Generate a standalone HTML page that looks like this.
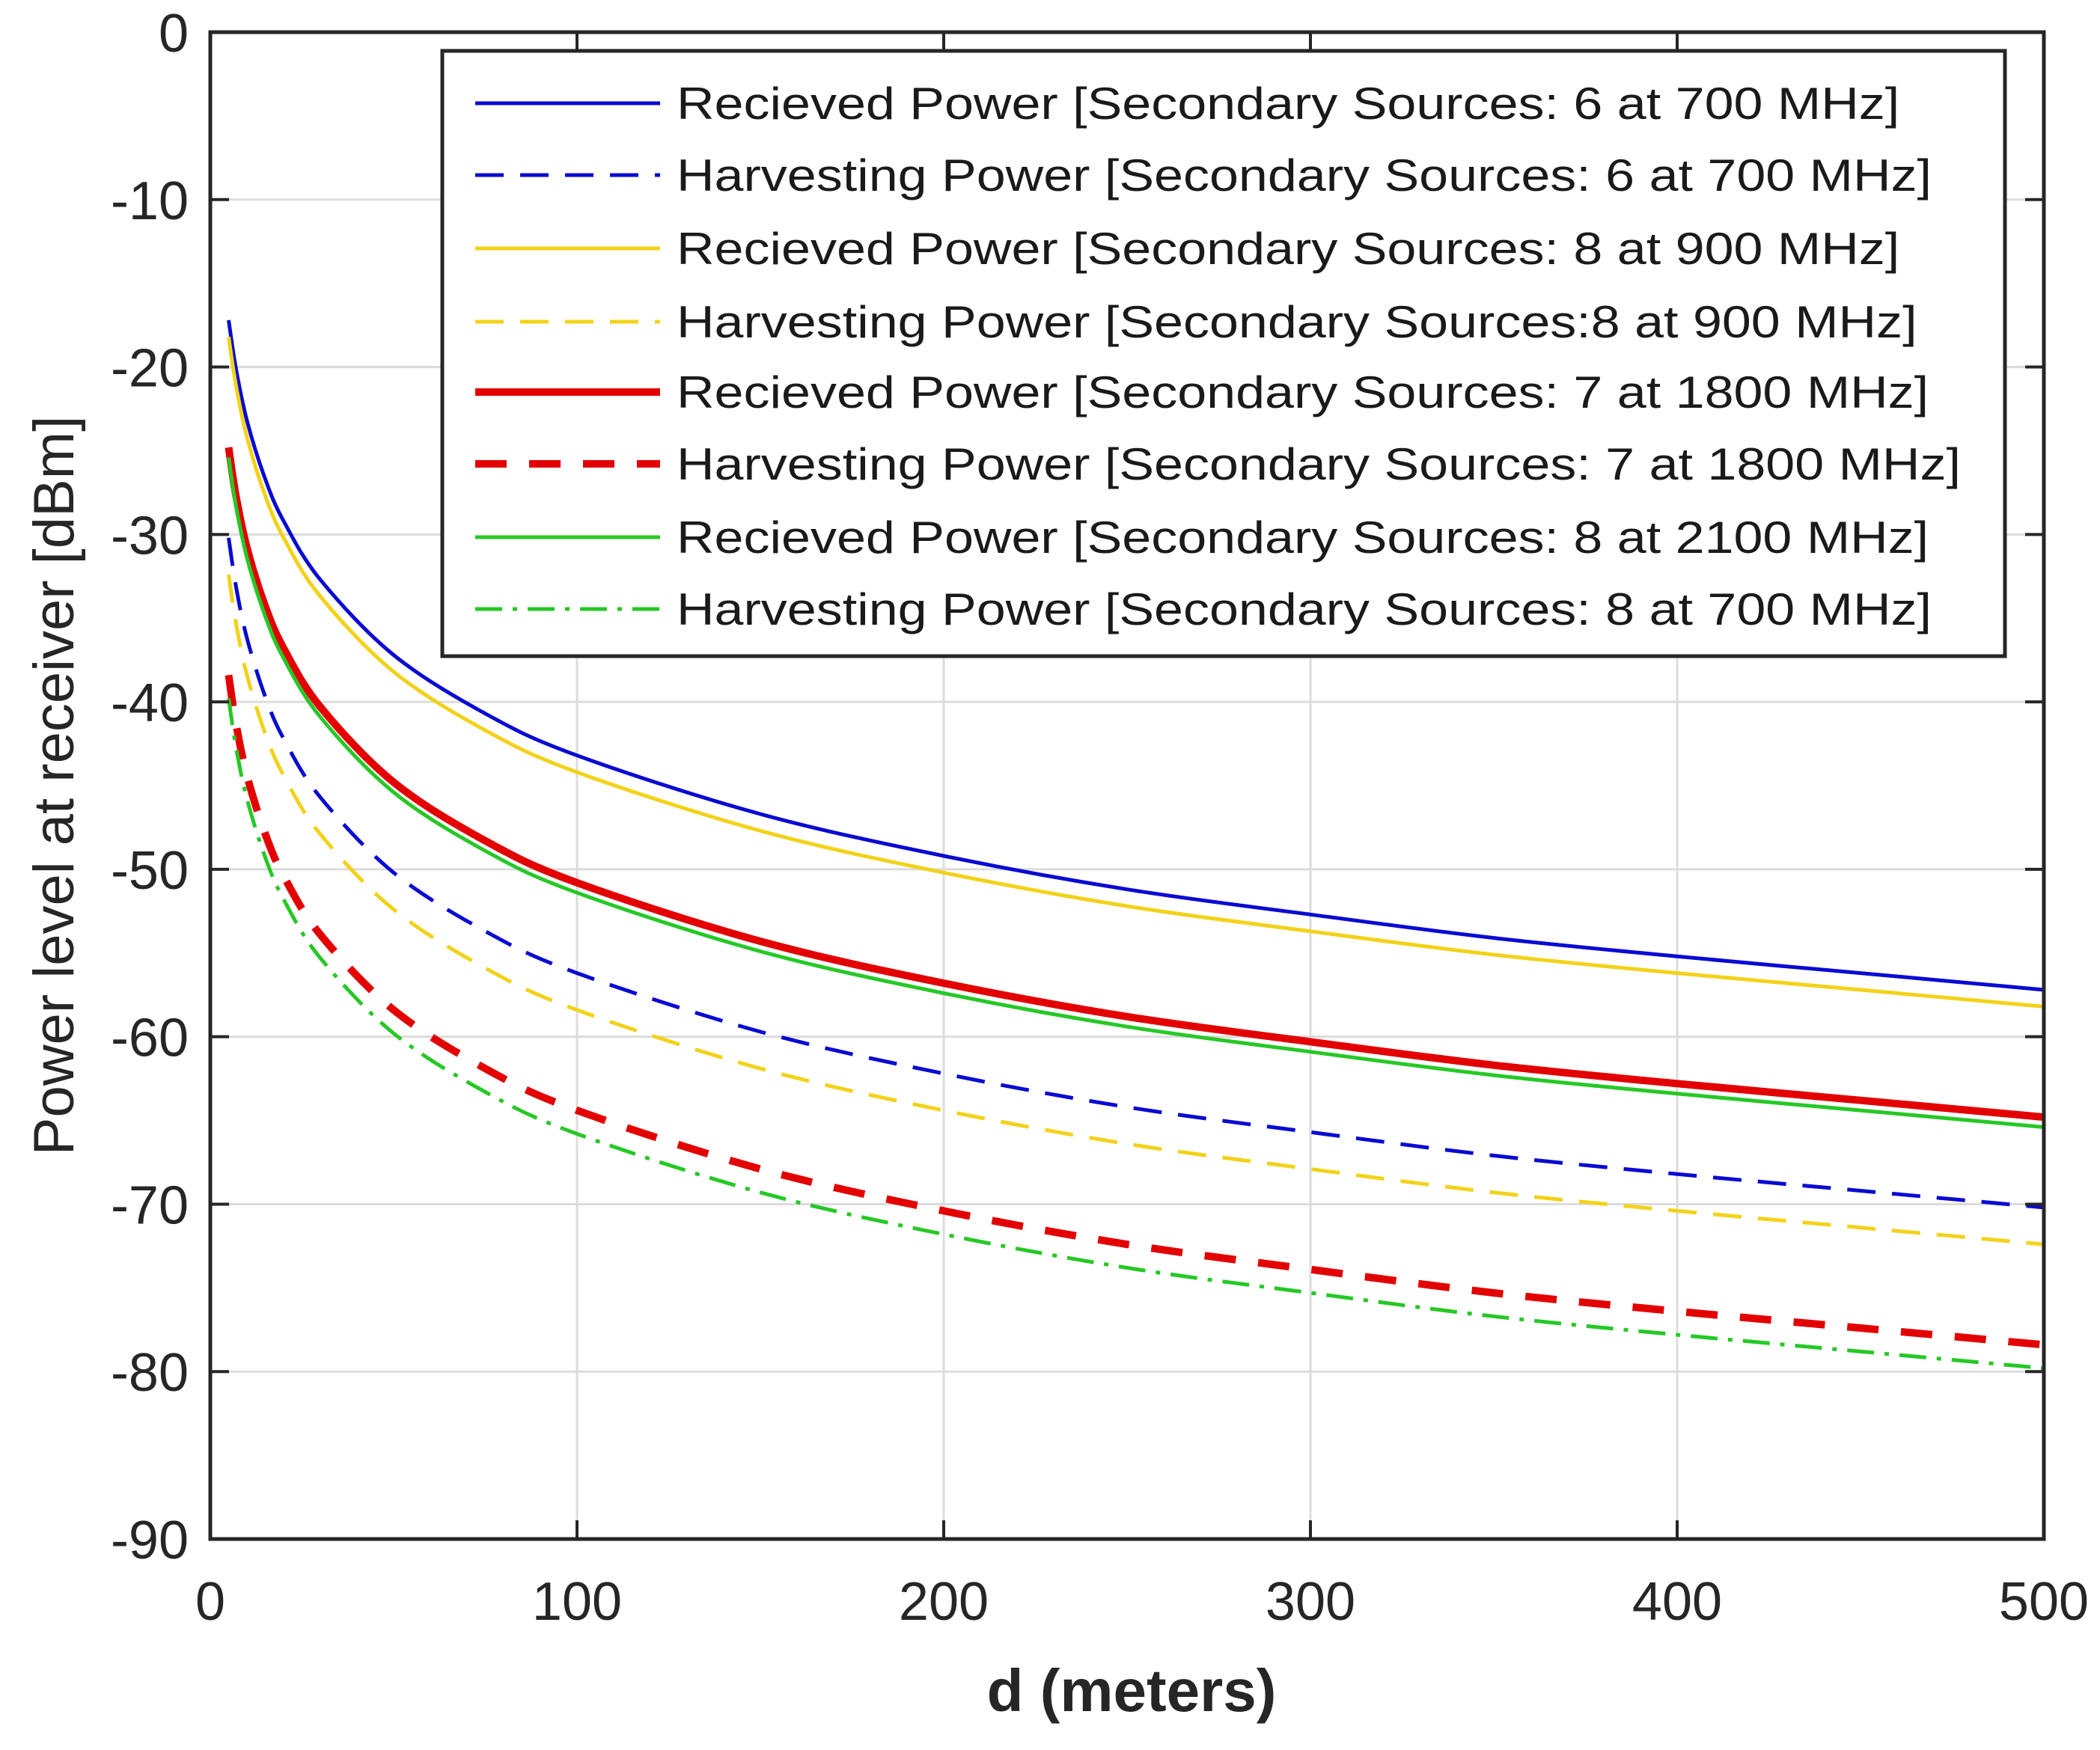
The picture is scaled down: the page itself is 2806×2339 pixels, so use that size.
<!DOCTYPE html>
<html><head><meta charset="utf-8"><style>
html,body{margin:0;padding:0;background:#fff;}
svg{display:block;font-family:"Liberation Sans",Arial,sans-serif;}
</style></head><body>
<svg id="chart" width="2806" height="2339" viewBox="0 0 2806 2339" xmlns="http://www.w3.org/2000/svg">
<rect width="2806" height="2339" fill="#fff"/>
<g id="grid"></g>
<g id="series"></g>
<g id="axes"></g>
<g id="legend"></g>
<text x="1512" y="2287" text-anchor="middle" font-size="80" font-weight="bold" fill="#262626">d (meters)</text>
<text transform="translate(98,1050) rotate(-90)" text-anchor="middle" font-size="76" fill="#262626">Power level at receiver [dBm]</text>
</svg>
<script>
const distances = [5,7,10,15,20,30,50,75,100,150,200,250,300,350,400,450,500];
const blueReceived = [-17.2,-20.1,-23.2,-26.7,-29.2,-32.7,-37.2,-40.7,-43.2,-46.7,-49.2,-51.2,-52.7,-54.1,-55.2,-56.2,-57.2];
const blueHarvest = [-30.2,-33.1,-36.2,-39.7,-42.2,-45.7,-50.2,-53.7,-56.2,-59.7,-62.2,-64.2,-65.7,-67.1,-68.2,-69.2,-70.2];
const yellowReceived = [-18.2,-21.1,-24.2,-27.7,-30.2,-33.7,-38.2,-41.7,-44.2,-47.7,-50.2,-52.2,-53.7,-55.1,-56.2,-57.2,-58.2];
const yellowHarvest = [-32.4,-35.3,-38.4,-41.9,-44.4,-47.9,-52.4,-55.9,-58.4,-61.9,-64.4,-66.4,-67.9,-69.3,-70.4,-71.4,-72.4];
const redReceived = [-24.8,-27.7,-30.8,-34.3,-36.8,-40.3,-44.8,-48.3,-50.8,-54.3,-56.8,-58.8,-60.3,-61.7,-62.8,-63.8,-64.8];
const redHarvest = [-38.4,-41.3,-44.4,-47.9,-50.4,-53.9,-58.4,-61.9,-64.4,-67.9,-70.4,-72.4,-73.9,-75.3,-76.4,-77.4,-78.4];
const greenReceived = [-25.4,-28.3,-31.4,-34.9,-37.4,-40.9,-45.4,-48.9,-51.4,-54.9,-57.4,-59.4,-60.9,-62.3,-63.4,-64.4,-65.4];
const greenHarvest = [-39.8,-42.7,-45.8,-49.3,-51.8,-55.3,-59.8,-63.3,-65.8,-69.3,-71.8,-73.8,-75.3,-76.7,-77.8,-78.8,-79.8];
const xTicks = [0,100,200,300,400,500];
const yTicks = [0,-10,-20,-30,-40,-50,-60,-70,-80,-90];
const legendLabels = [
 "Recieved Power [Secondary Sources: 6 at 700 MHz]",
 "Harvesting Power [Secondary Sources: 6 at 700 MHz]",
 "Recieved Power [Secondary Sources: 8 at 900 MHz]",
 "Harvesting Power [Secondary Sources:8 at 900 MHz]",
 "Recieved Power [Secondary Sources: 7 at 1800 MHz]",
 "Harvesting Power [Secondary Sources: 7 at 1800 MHz]",
 "Recieved Power [Secondary Sources: 8 at 2100 MHz]",
 "Harvesting Power [Secondary Sources: 8 at 700 MHz]"];

const L=281,R=2731,T=43,B=2057;
const xs=v=>L+(v-0)/(500-0)*(R-L);
const ys=v=>T+(0-v)/(0-(-90))*(B-T);
const NS="http://www.w3.org/2000/svg";
function mk(tag,attrs,parent){const e=document.createElementNS(NS,tag);for(const k in attrs)e.setAttribute(k,attrs[k]);parent.appendChild(e);return e;}

const styles=[
 {data:blueReceived,color:"#0a0ad2",w:5,dash:"",name:"line-received-6-at-700"},
 {data:blueHarvest,color:"#0a0ad2",w:5,dash:"38 22",name:"line-harvest-6-at-700"},
 {data:yellowReceived,color:"#f2d21a",w:5,dash:"",name:"line-received-8-at-900"},
 {data:yellowHarvest,color:"#f2d21a",w:5,dash:"38 22",name:"line-harvest-8-at-900"},
 {data:redReceived,color:"#e30000",w:10,dash:"",name:"line-received-7-at-1800"},
 {data:redHarvest,color:"#e30000",w:10,dash:"42 30",name:"line-harvest-7-at-1800"},
 {data:greenReceived,color:"#26c826",w:5,dash:"",name:"line-received-8-at-2100"},
 {data:greenHarvest,color:"#26c826",w:5,dash:"36 14 6 14",name:"line-harvest-8-at-700"}];

const grid=document.getElementById('grid');
xTicks.forEach(t=>{if(t>0&&t<500){const g=mk('line',{x1:xs(t),x2:xs(t),y1:T,y2:B,stroke:"#dcdcdc","stroke-width":3},grid);

}});
yTicks.forEach(t=>{if(t<0&&t>-90){const g=mk('line',{x1:L,x2:R,y1:ys(t),y2:ys(t),stroke:"#dcdcdc","stroke-width":3},grid);

}});

function pathFor(arr){
 const pts=distances.map((d,i)=>[xs(d),ys(arr[i])]);
 let s="M"+pts[0][0].toFixed(1)+","+pts[0][1].toFixed(1);
 for(let i=0;i<pts.length-1;i++){
  const p0=pts[Math.max(0,i-1)],p1=pts[i],p2=pts[i+1],p3=pts[Math.min(pts.length-1,i+2)];
  const c1=[p1[0]+(p2[0]-p0[0])/6,p1[1]+(p2[1]-p0[1])/6];
  const c2=[p2[0]-(p3[0]-p1[0])/6,p2[1]-(p3[1]-p1[1])/6];
  s+=" C"+c1[0].toFixed(1)+","+c1[1].toFixed(1)+" "+c2[0].toFixed(1)+","+c2[1].toFixed(1)+" "+p2[0].toFixed(1)+","+p2[1].toFixed(1);
 }
 return s;
}
const sg=document.getElementById('series');
styles.forEach(s=>{
 const p=mk('path',{d:pathFor(s.data),fill:"none",stroke:s.color,"stroke-width":s.w,"stroke-dasharray":s.dash},sg);
 
 
});

const ax=document.getElementById('axes');
const box=mk('rect',{x:L,y:T,width:R-L,height:B-T,fill:"none",stroke:"#262626","stroke-width":5},ax);


xTicks.forEach(t=>{
 mk('line',{x1:xs(t),x2:xs(t),y1:B,y2:B-25,stroke:"#262626","stroke-width":4},ax);
 mk('line',{x1:xs(t),x2:xs(t),y1:T,y2:T+25,stroke:"#262626","stroke-width":4},ax);
 const tx=mk('text',{x:xs(t),y:2165,"text-anchor":"middle","font-size":72,fill:"#262626"},ax);
 tx.textContent=t;
 
 
});
yTicks.forEach(t=>{
 mk('line',{x1:L,x2:L+25,y1:ys(t),y2:ys(t),stroke:"#262626","stroke-width":4},ax);
 mk('line',{x1:R,x2:R-25,y1:ys(t),y2:ys(t),stroke:"#262626","stroke-width":4},ax);
 const tx=mk('text',{x:252,y:ys(t)+26,"text-anchor":"end","font-size":72,fill:"#262626"},ax);
 tx.textContent=t;
 
 
});

const lg=document.getElementById('legend');
const lbox=mk('rect',{x:591,y:68,width:2088,height:809,fill:"#fff",stroke:"#262626","stroke-width":5},lg);


const rowY=[138,234,332,430,524,620,718,814];
const tg=mk('g',{transform:"translate(904,0) scale(1.167,1) translate(-904,0)"},lg);
styles.forEach((s,i)=>{
 const y=rowY[i];
 const ln=mk('line',{x1:635,x2:882,y1:y,y2:y,stroke:s.color,"stroke-width":s.w,"stroke-dasharray":s.dash},lg);
 
 
 const tx=mk('text',{x:904,y:y+21,"font-size":60,fill:"#1a1a1a"},tg);
 tx.textContent=legendLabels[i];
 
 
});
</script>
</body></html>
